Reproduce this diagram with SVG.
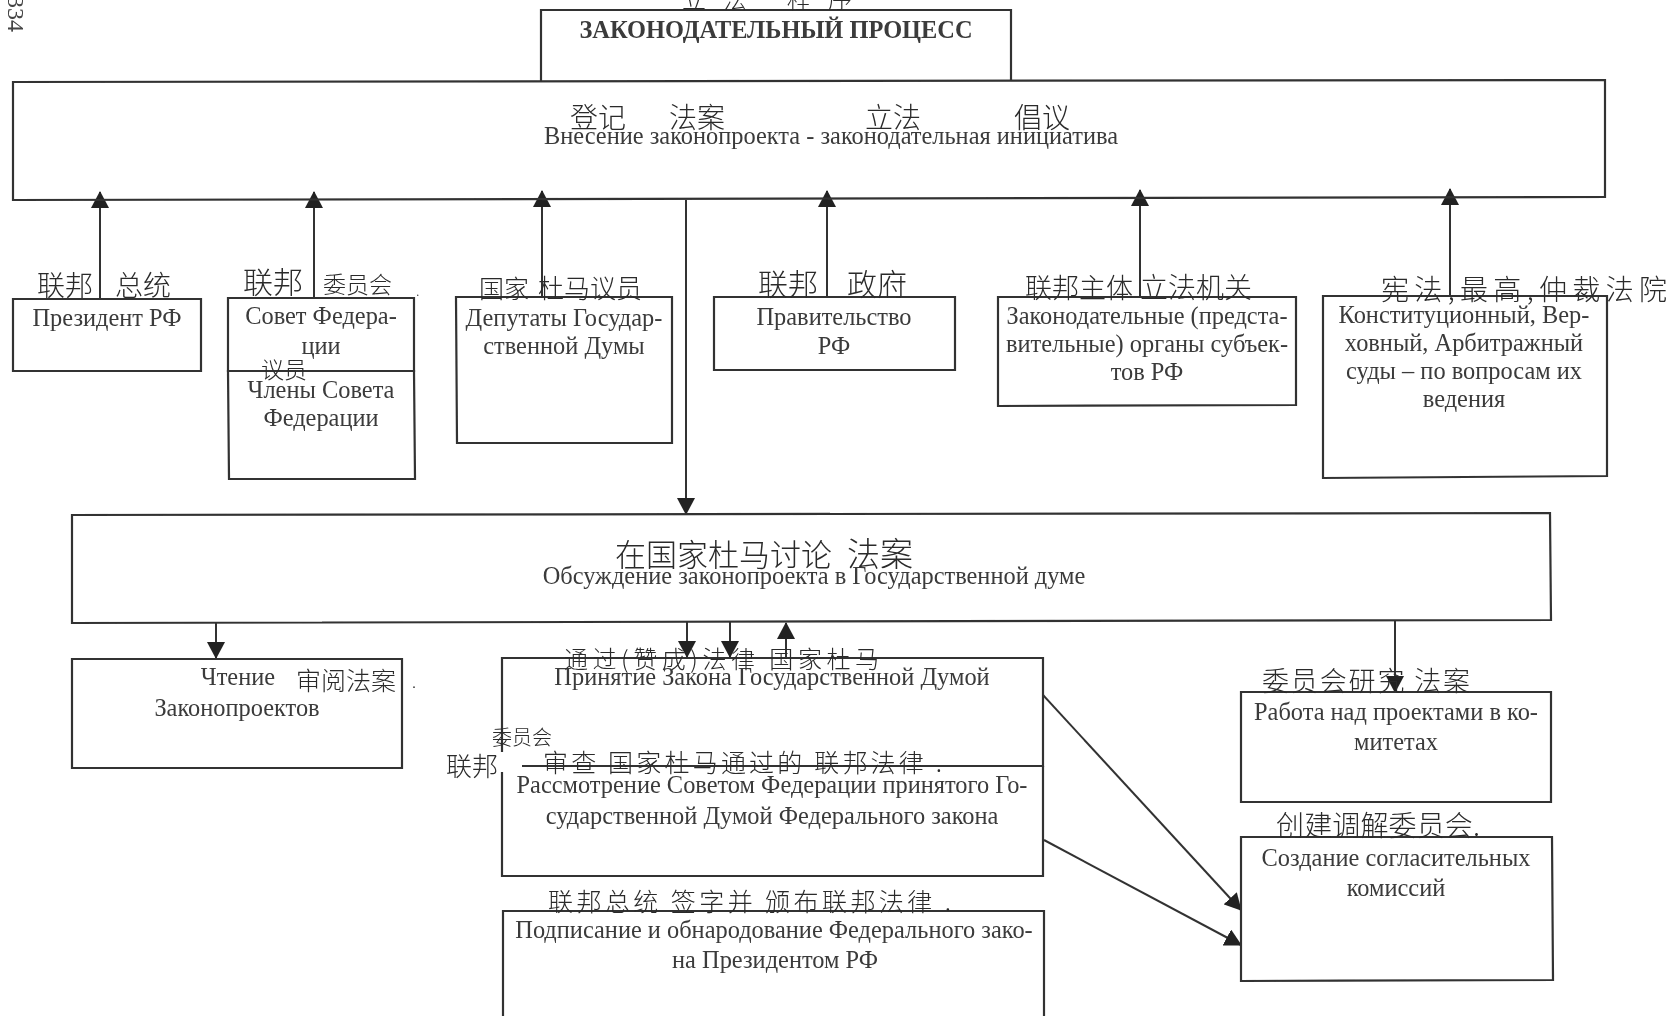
<svg xmlns="http://www.w3.org/2000/svg" width="1670" height="1016" viewBox="0 0 1670 1016">
<style>
.b{fill:none;stroke:#333;stroke-width:2.2}
.c{fill:none;stroke:#333;stroke-width:2}
.t{font-family:"Liberation Serif","Times New Roman",serif;font-size:24.4px;fill:#3a3a3a;text-anchor:middle;transform:translateY(1px)}
.h{font-family:"Noto Sans CJK SC","Noto Sans",sans-serif;fill:#2a2a2a;font-weight:300}
</style>
<defs>
<marker id="a" viewBox="0 0 17 18" refX="16" refY="9" markerWidth="17" markerHeight="18" markerUnits="userSpaceOnUse" orient="auto"><path d="M0 0L17 9L0 18Z" fill="#222"/></marker>
<filter id="s" x="0" y="0" width="100%" height="100%"><feGaussianBlur stdDeviation="0.45"/></filter>
</defs>
<rect width="1670" height="1016" fill="#fff"/>
<g filter="url(#s)">
<g id="connectors">
<path class="c" marker-end="url(#a)" d="M100 299V192"/>
<path class="c" marker-end="url(#a)" d="M314 298V192"/>
<path class="c" marker-end="url(#a)" d="M542 297V191"/>
<path class="c" marker-end="url(#a)" d="M827 297V191"/>
<path class="c" marker-end="url(#a)" d="M1140 297V190"/>
<path class="c" marker-end="url(#a)" d="M1450 296V189"/>
<path class="c" marker-end="url(#a)" d="M686 200V514"/>
<path class="c" marker-end="url(#a)" d="M216 623V658"/>
<path class="c" marker-end="url(#a)" d="M687 622V657"/>
<path class="c" marker-end="url(#a)" d="M730 622V657"/>
<path class="c" marker-end="url(#a)" d="M786 658V623"/>
<path class="c" marker-end="url(#a)" d="M1395 620V692"/>
<path class="c" marker-end="url(#a)" d="M1043 695L1241 910"/>
<path class="c" marker-end="url(#a)" d="M1044 840L1241 945"/>
</g>
<g id="page-number"><text transform="translate(8 -4) rotate(90)" font-family="Liberation Serif,serif" font-size="24" fill="#444">334</text></g>
<g id="title"><path class="b" d="M541 81V10H1011V80"/><text class="t" x="776" y="37" style="font-weight:bold">ЗАКОНОДАТЕЛЬНЫЙ ПРОЦЕСС</text></g>
<g id="initiative"><path class="b" d="M13 82L1605 80V197L13 200Z"/><text class="t" x="831" y="143">Внесение законопроекта - законодательная инициатива</text></g>
<g id="president"><path class="b" d="M13 299H201V371H13Z"/><text class="t" x="107" y="325">Президент РФ</text></g>
<g id="council"><path class="b" d="M228 298H414V371H228Z"/><text class="t" x="321" y="323">Совет Федера-</text><text class="t" x="321" y="353">ции</text></g>
<g id="council-members"><path class="b" d="M228 371H414L415 479H229Z"/><text class="t" x="321" y="397">Члены Совета</text><text class="t" x="321" y="425">Федерации</text></g>
<g id="deputies"><path class="b" d="M456 297H672V443H457Z"/><text class="t" x="564" y="325">Депутаты Государ-</text><text class="t" x="564" y="353">ственной Думы</text></g>
<g id="government"><path class="b" d="M714 297H955V370H714Z"/><text class="t" x="834" y="324">Правительство</text><text class="t" x="834" y="353">РФ</text></g>
<g id="legislatures"><path class="b" d="M998 297H1296V405L998 406Z"/><text class="t" x="1147" y="323">Законодательные (предста-</text><text class="t" x="1147" y="351">вительные) органы субъек-</text><text class="t" x="1147" y="379">тов РФ</text></g>
<g id="courts"><path class="b" d="M1323 296H1607V476L1323 478Z"/><text class="t" x="1464" y="322">Конституционный, Вер-</text><text class="t" x="1464" y="350">ховный, Арбитражный</text><text class="t" x="1464" y="378">суды – по вопросам их</text><text class="t" x="1464" y="406">ведения</text></g>
<g id="discussion"><path class="b" d="M72 515L1550 513L1551 620L72 623Z"/><text class="t" x="814" y="583">Обсуждение законопроекта в Государственной думе</text></g>
<g id="reading"><path class="b" d="M72 659H402V768H72Z"/><text class="t" x="238" y="684">Чтение</text><text class="t" x="237" y="715">Законопроектов</text></g>
<g id="adoption"><path class="b" d="M502 752V658H1043V766H522"/><text class="t" x="772" y="684">Принятие Закона Государственной Думой</text></g>
<g id="review"><path class="b" d="M502 772V876H1043V766"/><text class="t" x="772" y="792">Рассмотрение Советом Федерации принятого Го-</text><text class="t" x="772" y="823">сударственной Думой Федерального закона</text></g>
<g id="signing"><path class="b" d="M503 1016V911H1044V1016"/><text class="t" x="774" y="937">Подписание и обнародование Федерального зако-</text><text class="t" x="775" y="967">на Президентом РФ</text></g>
<g id="committees"><path class="b" d="M1241 692H1551V802H1241Z"/><text class="t" x="1396" y="719">Работа над проектами в ко-</text><text class="t" x="1396" y="749">митетах</text></g>
<g id="conciliation"><path class="b" d="M1241 837H1552L1553 980L1241 981Z"/><text class="t" x="1396" y="865">Создание согласительных</text><text class="t" x="1396" y="895">комиссий</text></g>
<g id="annotations">
<text class="h" x="682" y="8" font-size="24" textLength="170">立法 程序</text>
<text class="h" x="570" y="128" font-size="28">登记</text>
<text class="h" x="669" y="128" font-size="28">法案</text>
<text class="h" x="865" y="128" font-size="28">立法</text>
<text class="h" x="1014" y="128" font-size="28">倡议</text>
<text class="h" x="37" y="296" font-size="28">联邦</text>
<text class="h" x="115" y="296" font-size="28">总统</text>
<text class="h" x="243" y="293" font-size="30">联邦</text>
<text class="h" x="323" y="293" font-size="23">委员会</text>
<text class="h" x="479" y="298" font-size="25">国家</text>
<text class="h" x="538" y="298" font-size="26">杜马议员</text>
<text class="h" x="758" y="295" font-size="30">联邦</text>
<text class="h" x="847" y="295" font-size="30">政府</text>
<text class="h" x="1025" y="298" font-size="27">联邦主体</text>
<text class="h" x="1140" y="298" font-size="28">立法机关</text>
<text class="h" x="1381" y="300" font-size="28" textLength="286">宪法,最高,仲裁法院</text>
<text class="h" x="261" y="378" font-size="23">议员</text>
<text class="h" x="615" y="566" font-size="31">在国家杜马讨论</text>
<text class="h" x="847" y="566" font-size="33">法案</text>
<text class="h" x="296" y="690" font-size="25">审阅法案</text>
<text class="h" x="564" y="668" font-size="24" textLength="315">通过(赞成)法律 国家杜马</text>
<text class="h" x="492" y="745" font-size="20">委员会</text>
<text class="h" x="446" y="776" font-size="26">联邦</text>
<text class="h" x="543" y="772" font-size="25" textLength="399">审查 国家杜马通过的 联邦法律 .</text>
<text class="h" x="1262" y="691" font-size="27" textLength="208">委员会研究 法案</text>
<text class="h" x="1276" y="836" font-size="28" textLength="204">创建调解委员会.</text>
<text class="h" x="548" y="911" font-size="25" textLength="403">联邦总统 签字并 颁布联邦法律 .</text>
<text class="h" x="416" y="296" font-size="14">.</text>
<text class="h" x="412" y="688" font-size="16">.</text>
</g>
</g>
</svg>
